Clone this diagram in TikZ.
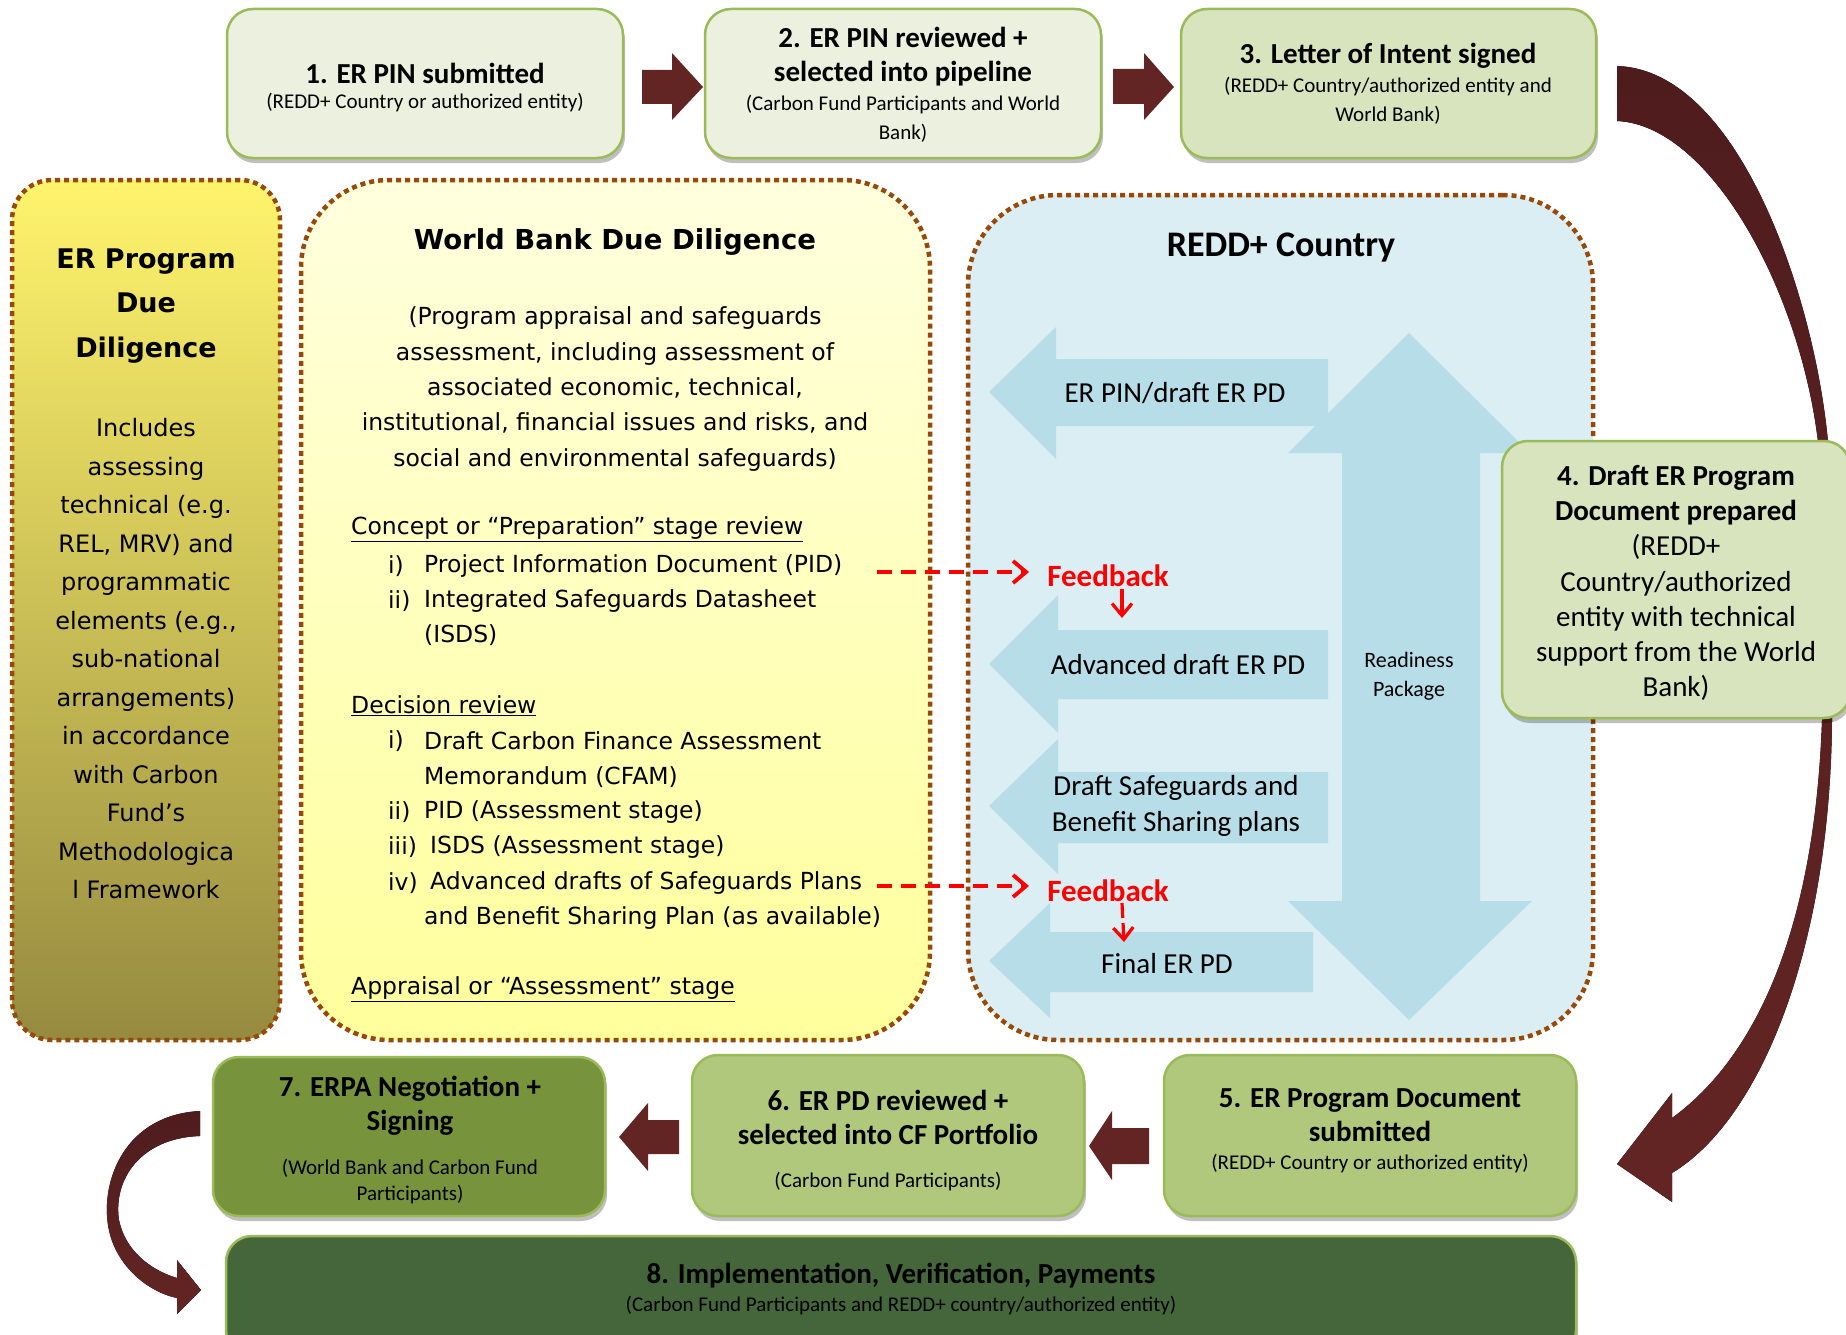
\documentclass[tikz,border=0pt]{standalone}
\usepackage{fontspec}
\setmainfont{Carlito}
\newfontfamily\dvsans{DejaVu Sans}
\usetikzlibrary{arrows.meta,shadows,shadings,calc}
\definecolor{paleA}{HTML}{EBF1DE}
\definecolor{paleB}{HTML}{D7E4BD}
\definecolor{midG}{HTML}{B0C87B}
\definecolor{darkG}{HTML}{77933C}
\definecolor{deepG}{HTML}{44663A}
\definecolor{borderG}{HTML}{9BBB59}
\definecolor{maroon}{HTML}{632523}
\definecolor{maroonTop}{HTML}{4F1C1E}
\definecolor{dotBrown}{HTML}{984807}
\definecolor{blueBg}{HTML}{DAEEF3}
\definecolor{blueAr}{HTML}{B7DEE8}
\definecolor{lyTop}{HTML}{FFF46C}
\definecolor{lyMid}{HTML}{E2D760}
\definecolor{lyBot}{HTML}{968A40}
\definecolor{yyTop}{HTML}{FFFFDE}
\definecolor{yyBot}{HTML}{FFFF9C}
\begin{document}
\begin{tikzpicture}[x=1pt,y=-1pt,
  stepbox/.style={draw=borderG, line width=2.5pt, rounded corners=26pt, inner sep=0pt,
    drop shadow={shadow xshift=2pt, shadow yshift=-5pt, opacity=0.25, fill=black}},
  dotbox/.style={draw=dotBrown, line width=4.5pt, dash pattern=on 5pt off 4pt, inner sep=0pt},
  steptitle/.style={font=\fontsize{29}{34}\selectfont\bfseries, align=center, inner sep=0pt},
  stepsub/.style={font=\fontsize{21}{29}\selectfont, align=center, inner sep=0pt},
  dvtext/.style={font=\dvsans\fontsize{23.5}{35.3}\selectfont, inner sep=0pt},
  itemtxt/.style={dvtext, anchor=west},
  bluelbl/.style={font=\fontsize{29}{36}\selectfont, align=center, inner sep=0pt},
  fbtext/.style={font=\fontsize{31}{36}\selectfont\bfseries, text=red, inner sep=0pt},
  fbline/.style={draw=red, line width=3.8pt, dash pattern=on 15pt off 9pt,
    -{Straight Barb[length=13pt,width=22pt,line width=3.8pt]}},
  fbdown/.style={draw=red, line width=3.2pt,
    -{Straight Barb[length=12pt,width=20pt,line width=3.2pt]}},
  blockarrow/.style={fill=maroon}
]
\useasboundingbox (0,0) rectangle (1846,1335);

% ---------- big curved arrow 3 -> 5 (behind box 4)
\fill[top color=maroonTop, bottom color=maroon]
  (1617,66) .. controls (1740,70) and (1815,300) .. (1828,442)
  -- (1832,720) .. controls (1830,950) and (1760,1120) .. (1672,1173)
  -- (1672,1202) -- (1617,1164) -- (1672,1093) -- (1672,1118)
  .. controls (1745,1065) and (1814,950) .. (1822,720)
  -- (1818,442) .. controls (1800,290) and (1710,125) .. (1617,121) -- cycle;

% ---------- left: ER Program Due Diligence
\node[dotbox, minimum width=268pt, minimum height=860pt, rounded corners=40pt,
  top color=lyTop, middle color=lyMid, bottom color=lyBot] (lbox) at (146,610) {};
\node[font=\dvsans\bfseries\fontsize{27}{44.5}\selectfont, align=center, inner sep=0pt] (ltitle) at (146,306)
  {ER Program\\Due\\Diligence};
\node[font=\dvsans\fontsize{24}{38.5}\selectfont, align=center, inner sep=0pt] (lbody) at (146,659)
  {Includes\\assessing\\technical (e.g.\\REL, MRV) and\\programmatic\\elements (e.g.,\\sub-national\\arrangements)\\in accordance\\with Carbon\\Fund’s\\Methodologica\\l Framework};

% ---------- middle: World Bank Due Diligence
\node[dotbox, minimum width=629pt, minimum height=860pt, rounded corners=88pt,
  top color=yyTop, bottom color=yyBot] (ybox) at (615.5,610) {};
\node[font=\dvsans\bfseries\fontsize{27.5}{34}\selectfont, inner sep=0pt] (ytitle) at (615,242) {World Bank Due Diligence};
\node[dvtext, align=center] (ypara) at (615,389)
  {(Program appraisal and safeguards\\assessment, including assessment of\\associated economic, technical,\\institutional, financial issues and risks, and\\social and environmental safeguards)};
\node[itemtxt] (h1) at (351,529) {\underline{Concept or “Preparation” stage review}};
\node[itemtxt] (n1) at (388,566) {i)};
\node[itemtxt] (p1) at (424,566) {Project Information Document (PID)};
\node[itemtxt] (n2) at (388,601) {ii)};
\node[itemtxt] (p2) at (424,601) {Integrated Safeguards Datasheet};
\node[itemtxt] (p2b) at (424,635) {(ISDS)};
\node[itemtxt] (h2) at (351,706) {\underline{Decision review}};
\node[itemtxt] (n3) at (388,741) {i)};
\node[itemtxt] (p3) at (424,741) {Draft Carbon Finance Assessment};
\node[itemtxt] (p3b) at (424,777) {Memorandum (CFAM)};
\node[itemtxt] (n4) at (388,812) {ii)};
\node[itemtxt] (p4) at (424,812) {PID (Assessment stage)};
\node[itemtxt] (n5) at (388,847) {iii)};
\node[itemtxt] (p5) at (430,847) {ISDS (Assessment stage)};
\node[itemtxt] (n6) at (388,883) {iv)};
\node[itemtxt] (p6) at (430,883) {Advanced drafts of Safeguards Plans};
\node[itemtxt] (p6b) at (424,918) {and Benefit Sharing Plan (as available)};
\node[itemtxt] (h3) at (351,989) {\underline{Appraisal or “Assessment” stage}};

% ---------- right: REDD+ Country
\node[dotbox, fill=blueBg, minimum width=625pt, minimum height=845pt, rounded corners=90pt] (cbox) at (1280.5,617.5) {};
\node[font=\fontsize{36}{40}\selectfont\bfseries, inner sep=0pt] (ctitle) at (1281,248) {REDD+ Country};
% double vertical arrow
\fill[blueAr] (1409,333) -- (1530,453) -- (1480,453) -- (1480,901) -- (1532,901) -- (1409,1020)
  -- (1288,901) -- (1342,901) -- (1342,453) -- (1288,453) -- cycle;
% left arrows
\fill[blueAr] (989,392) -- (1056,327) -- (1056,359) -- (1328,359) -- (1328,426) -- (1056,426) -- (1056,459) -- cycle;
\fill[blueAr] (989,664) -- (1058,595) -- (1058,630) -- (1328,630) -- (1328,699) -- (1058,699) -- (1058,733) -- cycle;
\fill[blueAr] (989,806) -- (1058,739) -- (1058,772) -- (1328,772) -- (1328,843) -- (1058,843) -- (1058,874) -- cycle;
\fill[blueAr] (989,961) -- (1050,903) -- (1050,932) -- (1313,932) -- (1313,992) -- (1050,992) -- (1050,1018) -- cycle;
\node[bluelbl] (a1) at (1175,393) {ER PIN/draft ER PD};
\node[bluelbl] (a2) at (1178,665) {Advanced draft ER PD};
\node[bluelbl] (a3) at (1176,806) {Draft Safeguards and\\Benefit Sharing plans};
\node[bluelbl] (a4) at (1167,964) {Final ER PD};
\node[font=\fontsize{22}{29}\selectfont, align=center, inner sep=0pt] (rp) at (1409,676) {Readiness\\Package};

% feedback
\node[fbtext] (fb1) at (1108,576) {Feedback};
\node[fbtext] (fb2) at (1108,891) {Feedback};
\coordinate (fs1) at (877,572);
\coordinate (fs2) at (877,886);
\coordinate (fe1) at (1029,572);
\coordinate (fe2) at (1029,886);
\draw[fbline] (fs1) -- (fe1);
\draw[fbline] (fs2) -- (fe2);
\coordinate (fd1) at (1122,618);
\coordinate (fd2) at (1124,942);
\draw[fbdown] (1122,589) -- (fd1);
\draw[fbdown, dash pattern=on 15pt off 5pt] (1122,903) -- (fd2);

% ---------- top row
\node[stepbox, fill=paleA, minimum width=396pt, minimum height=149pt] (b1) at (425,83.5) {};
\node[stepbox, fill=paleA, minimum width=396pt, minimum height=149pt] (b2) at (903,83.5) {};
\node[stepbox, fill=paleB, minimum width=415pt, minimum height=149pt] (b3) at (1388.5,83.5) {};
\node[steptitle] (t1) at (425,73) {1. ER PIN submitted};
\node[stepsub] (s1) at (425,103) {(REDD+ Country or authorized entity)};
\node[steptitle] (t2) at (903,57) {2. ER PIN reviewed +\\selected into pipeline};
\node[stepsub] (s2) at (903,119) {(Carbon Fund Participants and World\\Bank)};
\node[steptitle] (t3) at (1388,56) {3. Letter of Intent signed};
\node[stepsub] (s3) at (1388,101) {(REDD+ Country/authorized entity and\\World Bank)};
\fill[blockarrow] (642,70) -- (672,70) -- (672,53) -- (703,87) -- (672,120) -- (672,104) -- (642,104) -- cycle;
\fill[blockarrow] (1113,69) -- (1144,69) -- (1144,53) -- (1174,87) -- (1144,120) -- (1144,104) -- (1113,104) -- cycle;

% ---------- box 4
\node[stepbox, fill=paleB, minimum width=348pt, minimum height=277pt] (b4) at (1676,579.5) {};
\node[font=\fontsize{29}{35.3}\selectfont, align=center, inner sep=0pt] (t4) at (1676,583)
  {\textbf{4. Draft ER Program}\\\textbf{Document prepared}\\(REDD+\\Country/authorized\\entity with technical\\support from the World\\Bank)};

% ---------- bottom row
\node[stepbox, fill=midG, minimum width=412pt, minimum height=161pt] (b5) at (1370,1135.5) {};
\node[stepbox, fill=midG, minimum width=392pt, minimum height=161pt] (b6) at (888,1135.5) {};
\node[stepbox, fill=darkG, minimum width=392pt, minimum height=159pt] (b7) at (409,1136.5) {};
\node[stepbox, fill=deepG, minimum width=1350pt, minimum height=120pt] (b8) at (901,1296) {};
\node[steptitle] (t5) at (1370,1115) {5. ER Program Document\\submitted};
\node[stepsub] (s5) at (1370,1163) {(REDD+ Country or authorized entity)};
\node[steptitle] (t6) at (888,1117) {6. ER PD reviewed +\\selected into CF Portfolio};
\node[stepsub] (s6) at (888,1181) {(Carbon Fund Participants)};
\node[steptitle] (t7) at (410,1106) {7. ERPA Negotiation +\\Signing};
\node[stepsub, font=\fontsize{21}{26}\selectfont] (s7) at (410,1182) {(World Bank and Carbon Fund\\Participants)};
\node[steptitle] (t8) at (901,1276) {8. Implementation, Verification, Payments};
\node[stepsub] (s8) at (901,1305) {(Carbon Fund Participants and REDD+ country/authorized entity)};
\fill[blockarrow] (1089,1146) -- (1112,1111) -- (1112,1128) -- (1149,1128) -- (1149,1164) -- (1112,1164) -- (1112,1180) -- cycle;
\fill[blockarrow] (619,1137) -- (648,1103) -- (648,1120) -- (679,1120) -- (679,1154) -- (648,1154) -- (648,1171) -- cycle;

% ---------- curved arrow 7 -> 8
\fill[top color=maroonTop, bottom color=maroon]
  (200,1111) .. controls (125,1115) and (101,1180) .. (108,1225)
  .. controls (114,1265) and (148,1292) .. (177,1298)
  -- (177,1314) -- (201,1290) -- (177,1260) -- (177,1278)
  .. controls (150,1270) and (125,1250) .. (119,1220)
  .. controls (113,1180) and (140,1138) .. (200,1136) -- cycle;
\end{tikzpicture}
\end{document}
